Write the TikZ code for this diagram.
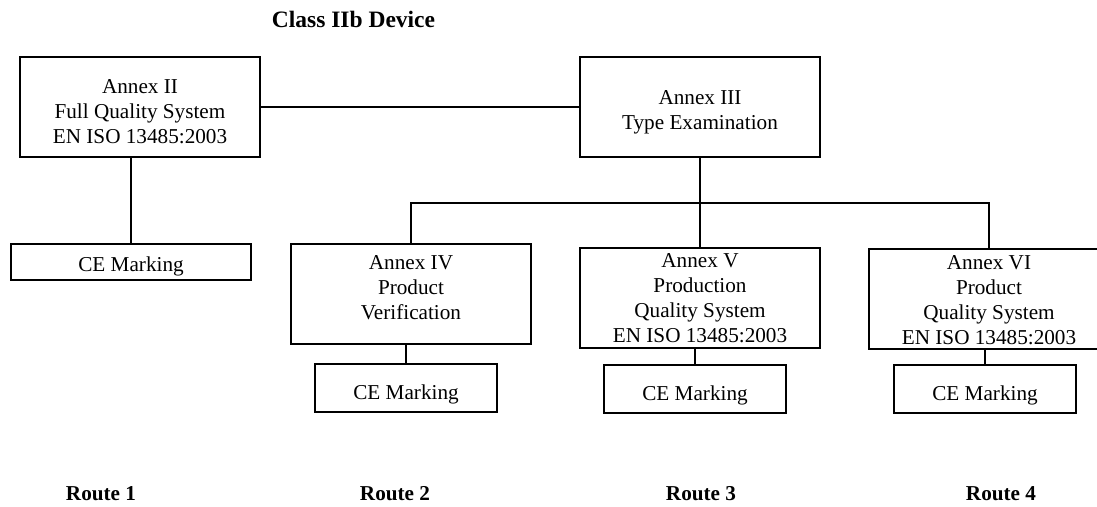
\documentclass[tikz,border=0pt]{standalone}
\usepackage{fontspec}
\setmainfont{Liberation Serif}
\usetikzlibrary{calc}

\tikzset{
  frame/.style={draw=black, line width=1.8bp, fill=white, inner sep=0pt},
  annexbox/.style={frame, minimum width=240bp, minimum height=100bp},
  cebox/.style={frame, minimum height=48bp},
  body/.style={inner sep=0pt, align=center, font=\fontsize{21.2bp}{25bp}\selectfont},
  heading/.style={inner sep=0pt, anchor=base, font=\fontsize{23.5bp}{28bp}\selectfont\bfseries},
  route/.style={inner sep=0pt, anchor=base, font=\fontsize{21.2bp}{25bp}\selectfont\bfseries},
  link/.style={draw=black, line width=1.8bp}
}

\begin{document}
\begin{tikzpicture}[x=1bp, y=-1bp]
  \useasboundingbox (0,0) rectangle (1097,507);
  \clip (0,0) rectangle (1097,507);

  % title
  \node[heading] (title) at (353.5,28) {Class IIb Device};

  % annex boxes
  \node[annexbox] (a2) at (140,107) {};
  \node[annexbox] (a3) at (700,107) {};
  \node[annexbox] (a4) at (411,294) {};
  \node[annexbox] (a5) at (700,298) {};
  \node[annexbox] (a6) at (989,299) {};

  % CE marking boxes
  \node[frame, minimum width=240bp, minimum height=36bp] (ce1) at (131,262) {};
  \node[cebox, minimum width=182bp] (ce2) at (406,388) {};
  \node[cebox, minimum width=182bp] (ce3) at (695,389) {};
  \node[cebox, minimum width=182bp] (ce4) at (985,389) {};

  % box texts
  \node[body] (a2t) at (140,112) {Annex II\\Full Quality System\\EN ISO 13485:2003};
  \node[body] (a3t) at (700,112.5) {Annex III\\Type Examination};
  \node[body] (a4t) at (411,288) {Annex IV\\Product\\Verification};
  \node[body] (a5t) at (700,298.5) {Annex V\\Production\\Quality System\\EN ISO 13485:2003};
  \node[body] (a6t) at (989,300) {Annex VI\\Product\\Quality System\\EN ISO 13485:2003};
  \node[body, anchor=base] (ce1t) at (131,271.5) {CE Marking};
  \node[body, anchor=base] (ce2t) at (406,399) {CE Marking};
  \node[body, anchor=base] (ce3t) at (695,400) {CE Marking};
  \node[body, anchor=base] (ce4t) at (985,400) {CE Marking};

  % connectors
  \coordinate (bus) at (700,203);
  \draw[link] (a2.east) -- (a3.west);
  \draw[link] (ce1.north) -- (ce1.north |- a2.south);
  \draw[link] (a3.south) -- (a5.north);
  \draw[link] (a4.north) -- (a4.north |- bus) -- (a6.north |- bus) -- (a6.north);
  \draw[link] (ce2.north) -- (ce2.north |- a4.south);
  \draw[link] (ce3.north) -- (ce3.north |- a5.south);
  \draw[link] (ce4.north) -- (ce4.north |- a6.south);

  % route labels
  \node[route] (r1) at (101,500) {Route 1};
  \node[route] (r2) at (395,500) {Route 2};
  \node[route] (r3) at (701,500) {Route 3};
  \node[route] (r4) at (1001,500) {Route 4};
\end{tikzpicture}
\end{document}
